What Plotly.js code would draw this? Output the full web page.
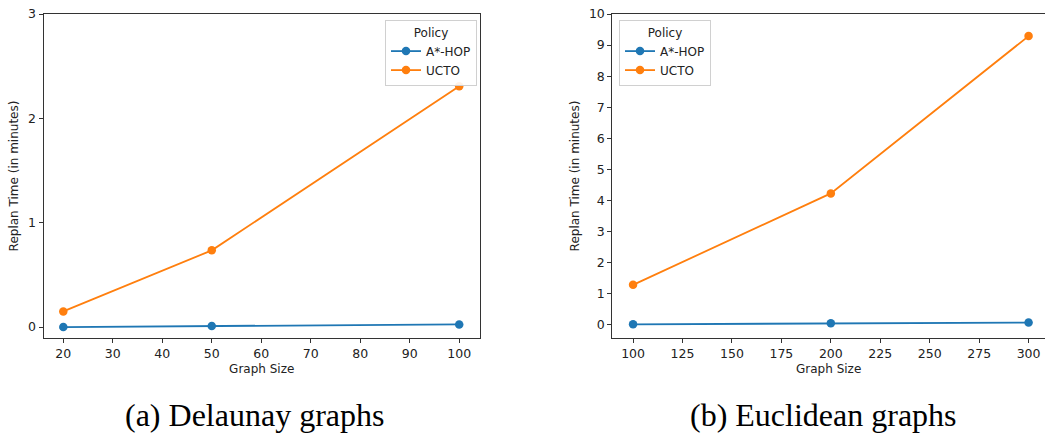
<!DOCTYPE html>
<html>
<head>
<meta charset="utf-8">
<script src="https://cdn.plot.ly/plotly-3.0.1.min.js"></script>
<style>html,body{margin:0;padding:0;background:#fff;}#chart{width:1045px;height:434px;}</style>
</head>
<body>
<div id="chart"></div>
<script>
// Delaunay graphs
const delaunaySizes = [20, 50, 100];
const delaunayAstarHop = [0.0, 0.01, 0.025];
const delaunayUcto = [0.15, 0.735, 2.307];
// Euclidean graphs
const euclidSizes = [100, 200, 300];
const euclidAstarHop = [0.02, 0.055, 0.075];
const euclidUcto = [1.29, 4.23, 9.29];
const seriesNames = ["A*-HOP", "UCTO"];
const captions = ["(a) Delaunay graphs", "(b) Euclidean graphs"];

const blue = "#1f77b4", orange = "#ff7f0e";
const mk = (x, y, name, color, xa, ya, leg) => ({
  x, y, name, type: "scatter", mode: "lines+markers",
  line: {color, width: 1.8}, marker: {color, size: 8.5},
  xaxis: xa, yaxis: ya, legend: leg, showlegend: true
});
const data = [
  mk(delaunaySizes, delaunayAstarHop, seriesNames[0], blue, "x", "y", "legend"),
  mk(delaunaySizes, delaunayUcto, seriesNames[1], orange, "x", "y", "legend"),
  mk(euclidSizes, euclidAstarHop, seriesNames[0], blue, "x2", "y2", "legend2"),
  mk(euclidSizes, euclidUcto, seriesNames[1], orange, "x2", "y2", "legend2")
];
const tickFont = {family: "DejaVu Sans", size: 12.5, color: "#222"};
const titleFont = {family: "DejaVu Sans", size: 12, color: "#222"};
const axBase = {
  showgrid: false, zeroline: false, showline: true, linecolor: "#333", linewidth: 1,
  ticks: "outside", ticklen: 4, tickcolor: "#333", tickfont: tickFont
};
const yDom = [(434 - 338) / 434, (434 - 14) / 434];
const legBase = {
  bgcolor: "rgba(255,255,255,0.9)", bordercolor: "#d0d0d0", borderwidth: 1,
  font: {family: "DejaVu Sans", size: 12, color: "#222"},
  title: {text: "Policy", side: "top center", font: {family: "DejaVu Sans", size: 12, color: "#222"}},
  xanchor: "left", yanchor: "top", tracegroupgap: 0, itemwidth: 30
};
const capFont = {family: "Liberation Serif", size: 32, color: "#000"};
const layout = {
  width: 1045, height: 434, margin: {l: 0, r: 0, t: 0, b: 0},
  paper_bgcolor: "#fff", plot_bgcolor: "#fff",
  xaxis: Object.assign({}, axBase, {domain: [43.5 / 1045, 480 / 1045], range: [16, 104.2], mirror: true,
    tickvals: [20, 30, 40, 50, 60, 70, 80, 90, 100], anchor: "y",
    title: {text: "Graph Size", font: titleFont, standoff: 4}}),
  yaxis: Object.assign({}, axBase, {domain: yDom, range: [-0.105, 3], mirror: true,
    tickvals: [0, 1, 2, 3], anchor: "x",
    title: {text: "Replan Time (in minutes)", font: titleFont, standoff: 6}}),
  xaxis2: Object.assign({}, axBase, {domain: [612.3 / 1045, 1], range: [89.5, 308.3], mirror: true,
    tickvals: [100, 125, 150, 175, 200, 225, 250, 275, 300], anchor: "y2",
    title: {text: "Graph Size", font: titleFont, standoff: 4}}),
  yaxis2: Object.assign({}, axBase, {domain: yDom, range: [-0.42, 10], mirror: false,
    tickvals: [0, 1, 2, 3, 4, 5, 6, 7, 8, 9, 10], anchor: "x2",
    title: {text: "Replan Time (in minutes)", font: titleFont, standoff: 6}}),
  legend: Object.assign({}, legBase, {x: 385 / 1045, y: (434 - 20) / 434}),
  legend2: Object.assign({}, legBase, {x: 619 / 1045, y: (434 - 20) / 434}),
  annotations: [
    {text: captions[0], x: 254 / 1045, y: (434 - 415) / 434, xref: "paper", yref: "paper",
     xanchor: "center", yanchor: "middle", showarrow: false, font: capFont},
    {text: captions[1], x: 823 / 1045, y: (434 - 415) / 434, xref: "paper", yref: "paper",
     xanchor: "center", yanchor: "middle", showarrow: false, font: capFont}
  ]
};
Plotly.newPlot("chart", data, layout, {displayModeBar: false, staticPlot: true});
</script>
</body>
</html>
